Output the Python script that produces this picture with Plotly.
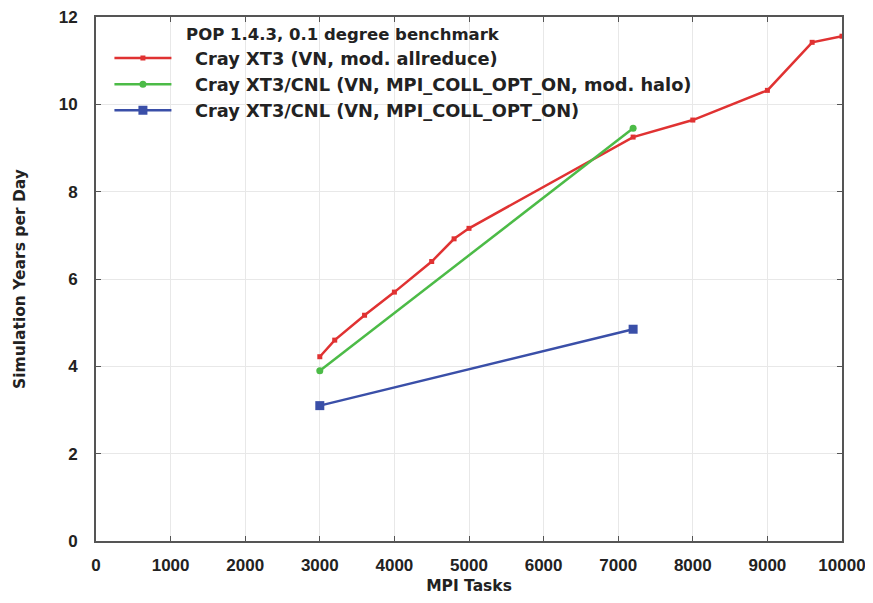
import plotly.graph_objects as go

red_x = [3000, 3200, 3600, 4000, 4500, 4800, 5000, 7200, 8000, 9000, 9600, 10000]
red_y = [4.22, 4.6, 5.17, 5.7, 6.4, 6.92, 7.16, 9.25, 9.64, 10.32, 11.42, 11.56]
green_x = [3000, 7200]
green_y = [3.9, 9.45]
blue_x = [3000, 7200]
blue_y = [3.1, 4.85]

names = ["Cray XT3 (VN, mod. allreduce)",
         "Cray XT3/CNL (VN, MPI_COLL_OPT_ON, mod. halo)",
         "Cray XT3/CNL (VN, MPI_COLL_OPT_ON)"]
legend_title = "POP 1.4.3, 0.1 degree benchmark"

fig = go.Figure()
fig.add_trace(go.Scatter(x=red_x, y=red_y, name=names[0], mode="lines+markers",
                         line=dict(color="#e03232", width=2.5),
                         marker=dict(symbol="square", size=5, color="#e03232")))
fig.add_trace(go.Scatter(x=green_x, y=green_y, name=names[1], mode="lines+markers",
                         line=dict(color="#4cbb47", width=2.5),
                         marker=dict(symbol="circle", size=7, color="#4cbb47")))
fig.add_trace(go.Scatter(x=blue_x, y=blue_y, name=names[2], mode="lines+markers",
                         line=dict(color="#3a4fa8", width=2.5),
                         marker=dict(symbol="square", size=9, color="#3a4fa8")))

font = "DejaVu Sans, sans-serif"
tfont = "Liberation Sans, Arial, sans-serif"
nb = "\u00a0"
fig.update_layout(
    width=857, height=587,
    margin=dict(l=88, r=23, t=9, b=54),
    plot_bgcolor="white", paper_bgcolor="white",
    font=dict(family=font, size=15, color="#222"),
    showlegend=True,
    legend=dict(x=0.018, y=0.997, xanchor="left", yanchor="top",
                bgcolor="rgba(255,255,255,0)",
                title=dict(text="<b>" + nb * 13 + legend_title + "</b>", font=dict(size=16.5)),
                font=dict(size=17.8), tracegroupgap=0, itemwidth=57),
    xaxis=dict(range=[0, 10000], dtick=1000, tickformat="d", showgrid=True, gridcolor="#e8e8e8",
               ticks="inside", ticklen=5, tickcolor="#555", mirror="ticks",
               showline=True, linecolor="#555", linewidth=2, zeroline=False,
               automargin=False, ticklabelstandoff=8, ticklabeloverflow="allow",
               tickfont=dict(size=17, family=tfont),
               title=dict(text="<b>MPI Tasks</b>", font=dict(size=15.5), standoff=17)),
    yaxis=dict(range=[0, 12], dtick=2, showgrid=True, gridcolor="#e8e8e8",
               ticks="inside", ticklen=5, tickcolor="#555", mirror="ticks",
               showline=True, linecolor="#555", linewidth=2, zeroline=False,
               automargin=False, ticklabelstandoff=13, ticklabeloverflow="allow",
               tickfont=dict(size=17, family=tfont),
               title=dict(text="<b>Simulation Years per Day</b>", font=dict(size=15.5), standoff=29)),
)
fig.update_xaxes(tickprefix="<b>", ticksuffix="</b>")
fig.update_yaxes(tickprefix="<b>", ticksuffix="</b>")
for tr in fig.data:
    tr.name = "<b>" + nb * 3 + tr.name + "</b>"
fig.write_html("out.html")
